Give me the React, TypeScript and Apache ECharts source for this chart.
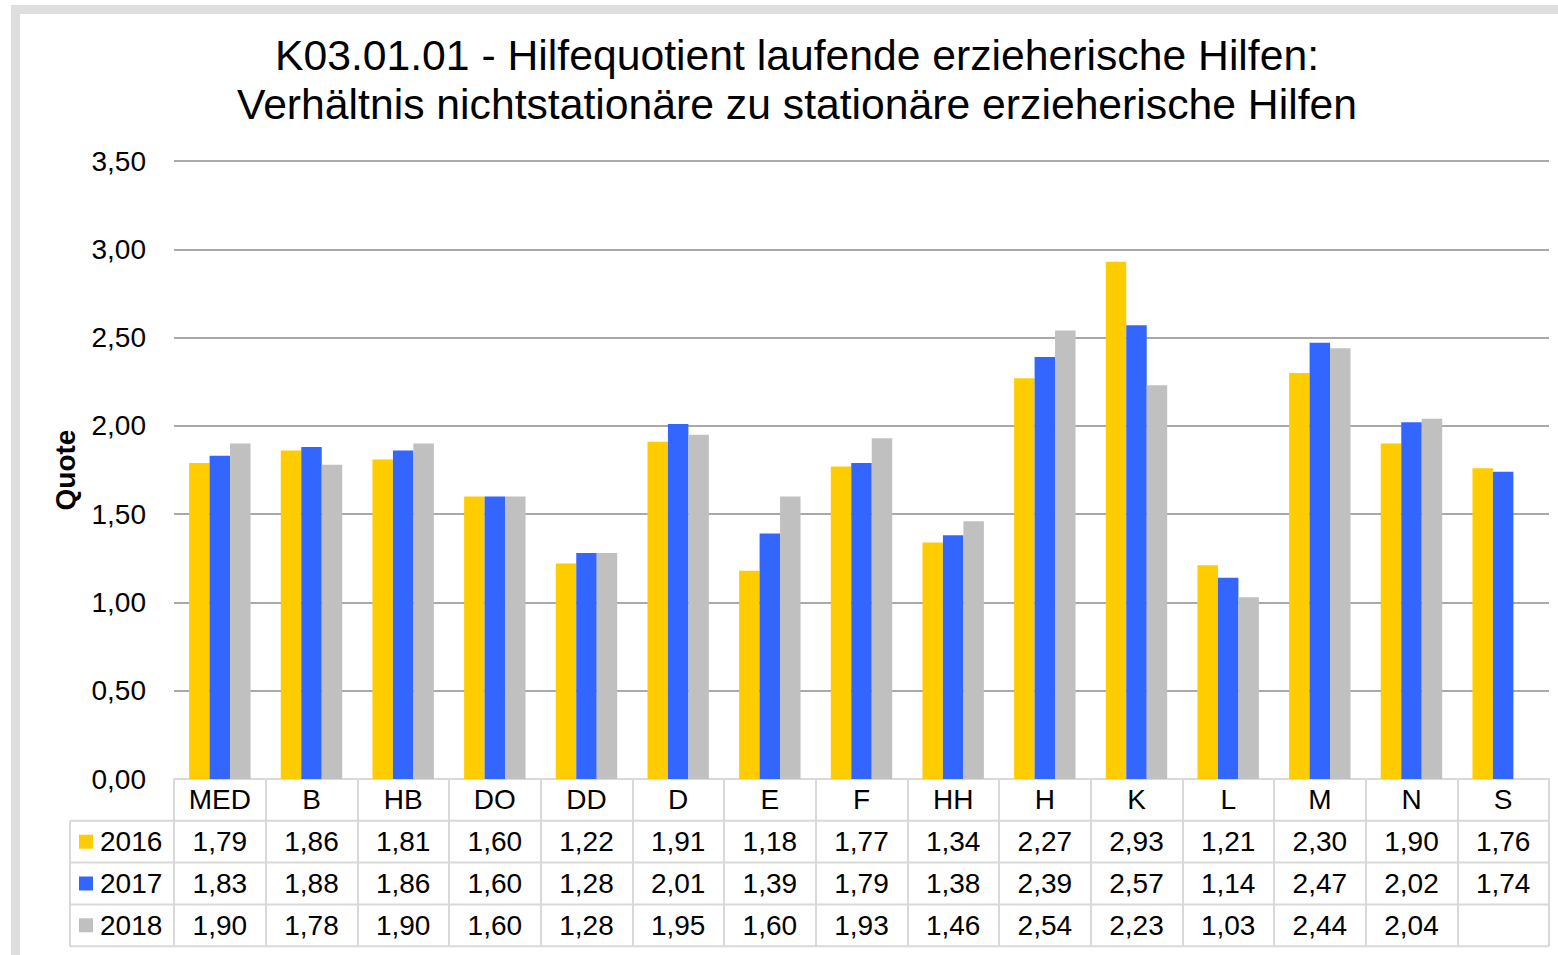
import React, { useEffect, useRef } from "react";
import * as echarts from "echarts";

const categories = ["MED", "B", "HB", "DO", "DD", "D", "E", "F", "HH", "H", "K", "L", "M", "N", "S"];
const seriesNames = ["2016", "2017", "2018"];
const values2016 = [1.79, 1.86, 1.81, 1.6, 1.22, 1.91, 1.18, 1.77, 1.34, 2.27, 2.93, 1.21, 2.3, 1.9, 1.76];
const values2017 = [1.83, 1.88, 1.86, 1.6, 1.28, 2.01, 1.39, 1.79, 1.38, 2.39, 2.57, 1.14, 2.47, 2.02, 1.74];
const values2018 = [1.9, 1.78, 1.9, 1.6, 1.28, 1.95, 1.6, 1.93, 1.46, 2.54, 2.23, 1.03, 2.44, 2.04, null];
const colors = ["#FFCC00", "#3366FF", "#C0C0C0"];
const titleText = "K03.01.01 - Hilfequotient laufende erzieherische Hilfen:\nVerhältnis nichtstationäre zu stationäre erzieherische Hilfen";

const FONT = "'Liberation Sans', Arial, sans-serif";
const fmt = (v: number | null) => (v === null || v === undefined ? "\u00a0" : v.toFixed(2).replace(".", ","));

const GRID_LEFT = 174;
const GRID_RIGHT_X = 1549;
const GRID_TOP = 161;
const GRID_BOTTOM_Y = 779;
const ROW_H = 41.8;
const TABLE_LEFT = 70;
const LINE_COLOR = "#d9d9d9";

export default function App() {
  const ref = useRef<HTMLDivElement>(null);
  useEffect(() => {
    if (!ref.current) return;
    const chart = echarts.init(ref.current, null, { renderer: "svg" });
    const allSeries = [values2016, values2017, values2018];

    const tableLines: any[] = [];
    for (let r = 1; r <= 4; r++) {
      const y = GRID_BOTTOM_Y + r * ROW_H;
      tableLines.push({
        type: "line",
        shape: { x1: TABLE_LEFT, y1: y, x2: GRID_RIGHT_X, y2: y },
        style: { stroke: LINE_COLOR, lineWidth: 2 },
        z: 10,
      });
    }
    tableLines.push({
      type: "line",
      shape: { x1: TABLE_LEFT, y1: GRID_BOTTOM_Y + ROW_H, x2: TABLE_LEFT, y2: GRID_BOTTOM_Y + 4 * ROW_H },
      style: { stroke: LINE_COLOR, lineWidth: 2 },
      z: 10,
    });

    chart.setOption({
      animation: false,
      backgroundColor: "#ffffff",
      textStyle: { fontFamily: FONT },
      title: {
        text: titleText,
        left: 797,
        top: 30,
        textAlign: "center",
        padding: 0,
        textStyle: { fontFamily: FONT, fontSize: 42.7, fontWeight: "normal", color: "#000", lineHeight: 49 },
      },
      legend: {
        orient: "vertical",
        left: 79,
        top: GRID_BOTTOM_Y + ROW_H * 1.5 - 14,
        padding: 0,
        itemWidth: 14,
        itemHeight: 14,
        itemGap: ROW_H - 28,
        icon: "rect",
        data: seriesNames,
        textStyle: { fontFamily: FONT, fontSize: 28, color: "#000", lineHeight: 28, padding: [0, 0, 0, 2] },
      },
      grid: {
        left: GRID_LEFT,
        right: 1558 - GRID_RIGHT_X,
        top: GRID_TOP,
        bottom: 955 - GRID_BOTTOM_Y,
        containLabel: false,
      },
      xAxis: {
        type: "category",
        data: categories,
        axisLine: { show: true, lineStyle: { color: LINE_COLOR, width: 2 } },
        axisTick: { show: true, interval: 0, length: ROW_H * 4, lineStyle: { color: LINE_COLOR, width: 2 } },
        axisLabel: {
          interval: 0,
          margin: 0,
          formatter: (value: string, idx: number) =>
            `{h|${value}}\n{v|${fmt(values2016[idx])}}\n{v|${fmt(values2017[idx])}}\n{v|${fmt(values2018[idx])}}`,
          rich: {
            h: { fontFamily: FONT, fontSize: 28, color: "#000", lineHeight: ROW_H, align: "center" },
            v: { fontFamily: FONT, fontSize: 28, color: "#000", lineHeight: ROW_H, align: "center" },
          },
        },
      },
      yAxis: {
        type: "value",
        min: 0,
        max: 3.5,
        interval: 0.5,
        name: "Quote",
        nameLocation: "middle",
        nameRotate: 90,
        nameGap: 95,
        nameTextStyle: { fontFamily: FONT, fontSize: 28, fontWeight: "bold", color: "#000" },
        axisLine: { show: false },
        axisTick: { show: false },
        axisLabel: {
          margin: 28,
          fontFamily: FONT,
          fontSize: 28,
          color: "#000",
          formatter: (v: number) => v.toFixed(2).replace(".", ","),
        },
        splitLine: { show: true, lineStyle: { color: "#8c8c8c", width: 1.5 } },
      },
      series: seriesNames.map((name, i) => ({
        name,
        type: "bar",
        data: allSeries[i],
        itemStyle: { color: colors[i] },
        barGap: "0%",
        barCategoryGap: "33%",
      })),
      graphic: [
        {
          type: "rect",
          shape: { x: 15.5, y: 9.5, width: 1700, height: 1100 },
          style: { fill: "none", stroke: "#dedede", lineWidth: 9 },
          z: 100,
        },
        ...tableLines,
      ],
    });
    return () => chart.dispose();
  }, []);
  return (
    <div
      ref={ref}
      style={{ position: "absolute", left: 0, top: 0, width: 1558, height: 955, background: "#fff" }}
    />
  );
}
